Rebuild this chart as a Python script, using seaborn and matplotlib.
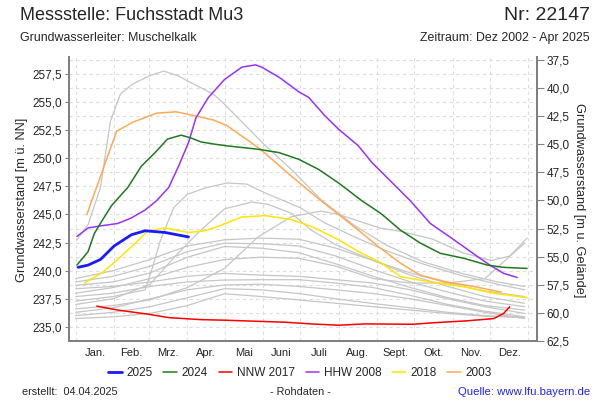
import matplotlib
matplotlib.use("Agg")
import matplotlib.pyplot as plt
import seaborn as sns
from matplotlib.ticker import FixedLocator, MultipleLocator, FuncFormatter
from matplotlib.lines import Line2D

# values (x = day of year, y = m ü. NN)
month_starts = [0, 31, 59, 90, 120, 151, 181, 212, 243, 273, 304, 334, 365]
month_labels = ["Jan.", "Feb.", "Mrz.", "Apr.", "Mai", "Juni", "Juli",
                "Aug.", "Sept.", "Okt.", "Nov.", "Dez."]

days_2025 = [2, 10, 20, 31, 45, 56, 72, 91]
level_2025 = [240.3, 240.5, 241.0, 242.2, 243.2, 243.55, 243.4, 243.0]

days_2024 = [1, 10, 15, 21, 29, 42, 53, 64, 74, 85, 93, 101, 112, 122, 147, 164,
             180, 196, 212, 231, 246, 262, 278, 294, 313, 332, 345, 364]
level_2024 = [240.5, 241.7, 243.3, 244.4, 245.8, 247.4, 249.3, 250.5, 251.7, 252.05,
              251.8, 251.45, 251.25, 251.1, 250.8, 250.5, 249.9, 249.0, 247.8, 246.2,
              245.1, 243.6, 242.45, 241.55, 241.1, 240.5, 240.3, 240.2]

days_nnw = [17, 34, 58, 75, 101, 120, 147, 169, 190, 212, 233, 272, 291, 315, 337, 345, 350]
level_nnw = [236.85, 236.5, 236.14, 235.83, 235.65, 235.6, 235.5, 235.42, 235.27,
             235.15, 235.27, 235.24, 235.39, 235.54, 235.74, 236.19, 236.8]

days_hhw = [1, 10, 21, 34, 45, 56, 65, 75, 83, 91, 97, 107, 120, 134, 145, 150, 164,
            180, 188, 201, 212, 228, 239, 250, 270, 286, 305, 324, 334, 345, 356]
level_hhw = [243.05, 243.8, 244.0, 244.2, 244.7, 245.4, 246.2, 247.4, 249.3, 251.4,
             253.6, 255.4, 257.0, 258.1, 258.3, 258.1, 257.2, 255.9, 255.4, 253.77,
             252.58, 251.1, 249.6, 248.4, 246.2, 244.2, 242.75, 241.26, 240.5, 239.77, 239.4]

days_2018 = [7, 21, 34, 48, 58, 72, 91, 104, 115, 123, 134, 153, 174, 190, 212, 228,
             247, 262, 286, 313, 337, 364]
level_2018 = [238.9, 239.8, 241.0, 242.45, 243.5, 243.8, 243.4, 243.55, 243.94, 244.3,
              244.77, 244.9, 244.54, 243.94, 242.75, 241.7, 240.66, 239.47, 239.0,
              238.57, 238.0, 237.6]

days_2003 = [9, 33, 46, 65, 81, 95, 111, 122, 149, 174, 198, 212, 228, 244, 262, 278,
             299, 321, 343]
level_2003 = [245.0, 252.4, 253.2, 254.0, 254.13, 253.8, 253.4, 252.9, 250.8, 248.4,
              246.2, 245.0, 243.6, 242.15, 240.66, 239.6, 239.0, 238.6, 238.1]

# other years (grey)
grey_days = [0, 30, 60, 90, 120, 150, 180, 210, 240, 270, 300, 330, 362]
grey_levels = [
    [239.3, 240.0, 241.0, 242.2, 242.75, 242.9, 242.8, 242.0, 240.9, 239.6, 238.6, 237.7, 237.1],
    [239.0, 239.5, 240.4, 241.7, 242.45, 242.4, 242.2, 241.3, 240.1, 239.0, 238.1, 237.3, 236.8],
    [238.7, 239.0, 239.8, 241.2, 242.15, 242.0, 241.6, 240.6, 239.5, 238.5, 237.6, 236.9, 236.5],
    [238.4, 238.6, 239.0, 239.5, 239.76, 239.6, 239.5, 239.2, 238.9, 238.3, 237.5, 236.8, 236.2],
    [237.7, 238.0, 238.6, 239.0, 239.17, 239.2, 239.2, 238.9, 238.5, 237.8, 237.0, 236.4, 235.9],
    [236.3, 236.7, 237.5, 238.3, 238.73, 238.8, 238.6, 238.3, 237.97, 237.5, 236.9, 236.3, 235.75],
    [236.0, 236.3, 236.8, 237.6, 238.4, 238.3, 237.97, 237.5, 237.08, 236.7, 236.3, 236.0, 235.8],
    [235.75, 235.9, 236.2, 236.9, 237.95, 237.7, 237.4, 237.1, 236.8, 236.5, 236.2, 235.95, 235.9],
    [238.0, 238.5, 239.3, 240.3, 241.0, 241.2, 241.1, 240.4, 239.3, 238.9, 238.9, 239.3, 242.45],
]

grey_a_days = [1, 10, 20, 28, 36, 46, 60, 71, 82, 95, 111, 120, 137, 153, 174, 198,
               225, 250, 280, 310, 340, 362]
grey_a = [242.75, 244.1, 247.4, 253.3, 255.7, 256.6, 257.35, 257.75, 257.35, 256.6,
          255.7, 254.8, 252.9, 251.1, 249.0, 246.3, 244.0, 242.3, 240.8, 239.8, 239.0, 238.6]

grey_b_days = [0, 30, 56, 62, 68, 79, 90, 106, 122, 138, 153, 166, 181, 200, 225, 250,
               280, 310, 340, 362]
grey_b = [237.3, 237.7, 238.3, 240.3, 242.6, 245.6, 246.8, 247.4, 247.8, 247.7, 246.9,
          246.3, 245.6, 244.3, 243.0, 241.8, 240.6, 239.6, 238.8, 238.3]

grey_c_days = [0, 30, 60, 82, 100, 120, 142, 155, 174, 190, 210, 240, 270, 300, 330, 362]
grey_c = [237.0, 237.5, 238.8, 241.5, 243.5, 245.5, 246.1, 245.9, 245.1, 243.6, 242.3,
          240.9, 239.8, 238.9, 238.2, 237.7]

grey_d_days = [0, 30, 60, 90, 120, 147, 174, 198, 212, 245, 262, 288, 312, 335, 350, 364]
grey_d = [236.6, 236.9, 237.4, 238.5, 240.2, 243.0, 244.8, 245.3, 245.0, 243.8, 243.5,
          242.8, 241.6, 240.9, 241.3, 242.9]

# offset between m ü. NN and m u. Gelände
ground = 296.25

sns.set_style("white")
plt.rcParams["font.family"] = ["Liberation Sans", "DejaVu Sans"]

fig = plt.figure(figsize=(6, 4), dpi=100)
ax = fig.add_axes([0.115, 0.1475, 0.78, 0.71])

grey = "#c6c6c6"
for vals in grey_levels:
    sns.lineplot(x=grey_days, y=vals, ax=ax, color=grey, lw=0.9)
for d, v in [(grey_a_days, grey_a), (grey_b_days, grey_b),
             (grey_c_days, grey_c), (grey_d_days, grey_d)]:
    sns.lineplot(x=d, y=v, ax=ax, color=grey, lw=0.9)

series = [
    ("2003", days_2003, level_2003, "#ffaa55", 1.1),
    ("2018", days_2018, level_2018, "#ffe600", 1.1),
    ("HHW 2008", days_hhw, level_hhw, "#9b30ff", 1.1),
    ("NNW 2017", days_nnw, level_nnw, "#ff0000", 1.1),
    ("2024", days_2024, level_2024, "#1f7a1f", 1.1),
    ("2025", days_2025, level_2025, "#1a1aff", 2.0),
]
for name, d, v, c, w in series:
    sns.lineplot(x=d, y=v, ax=ax, color=c, lw=w)

ax.set_xlim(-5.4, 372)
ax.set_ylim(233.75, 259.0)
ax.set_xlabel("")
ax.set_ylabel("")

ax.xaxis.set_major_locator(FixedLocator(month_starts))
ax.xaxis.set_minor_locator(FixedLocator([(a + b) / 2 for a, b in zip(month_starts[:-1], month_starts[1:])]))
ax.set_xticklabels([])
ax.set_xticklabels(month_labels, minor=True)
ax.tick_params(axis="x", which="major", length=4, color="#808080", width=1)
ax.tick_params(axis="x", which="minor", length=0, labelsize=8, pad=5)

fmt = FuncFormatter(lambda v, p: f"{v:.1f}".replace(".", ","))
ax.yaxis.set_major_locator(MultipleLocator(2.5))
ax.yaxis.set_minor_locator(MultipleLocator(1.25))
ax.yaxis.set_major_formatter(fmt)
ax.tick_params(axis="y", which="major", length=3, color="#808080", labelsize=8.5, pad=2)
ax.tick_params(axis="y", which="minor", length=0)

ax.grid(True, axis="x", which="major", ls=(0, (3, 3)), color="#dddddd", lw=0.8)
ax.grid(True, axis="y", which="both", ls=(0, (3, 3)), color="#dddddd", lw=0.8)
ax.set_axisbelow(True)

ax.spines["top"].set_visible(False)
for s in ["left", "bottom", "right"]:
    ax.spines[s].set_color("#808080")
    ax.spines[s].set_linewidth(1.4)

ax2 = ax.twinx()
ax2.set_ylim(ground - 233.75, ground - 259.0)
ax2.yaxis.set_major_locator(MultipleLocator(2.5))
ax2.yaxis.set_major_formatter(fmt)
ax2.tick_params(axis="y", length=5, color="#808080", labelsize=8.5, pad=2)
ax2.spines["top"].set_visible(False)
for s in ["left", "bottom", "right"]:
    ax2.spines[s].set_color("#808080")
    ax2.spines[s].set_linewidth(1.4)

fig.text(0.036, 0.5, "Grundwasserstand [m ü. NN]", rotation=90, fontsize=9.2,
         ha="center", va="center")
fig.text(0.965, 0.5, "Grundwasserstand [m u. Gelände]", rotation=270, fontsize=9.2,
         ha="center", va="center")

fig.text(0.033, 0.962, "Messstelle: Fuchsstadt Mu3", fontsize=13, ha="left", va="center")
fig.text(0.983, 0.962, "Nr: 22147", fontsize=14, ha="right", va="center")
fig.text(0.033, 0.905, "Grundwasserleiter: Muschelkalk", fontsize=8.9, ha="left", va="center")
fig.text(0.983, 0.905, "Zeitraum: Dez 2002 - Apr 2025", fontsize=8.9, ha="right", va="center")

handles = [Line2D([], [], color=c, lw=w) for _, _, _, c, w in reversed(series)]
labels = [n for n, _, _, _, _ in reversed(series)]
fig.legend(handles, labels, loc="center", bbox_to_anchor=(0.5, 0.068), ncol=6,
           frameon=False, fontsize=8.5, handlelength=1.15, handletextpad=0.4,
           columnspacing=0.9)

fig.text(0.037, 0.02, "erstellt:  04.04.2025", fontsize=7.8, ha="left", va="center")
fig.text(0.5, 0.02, "- Rohdaten -", fontsize=7.8, ha="center", va="center")
fig.text(0.983, 0.02, "Quelle: www.lfu.bayern.de", fontsize=8.2, ha="right",
         va="center", color="#2222ff")

fig.savefig("out.png", dpi=100)
